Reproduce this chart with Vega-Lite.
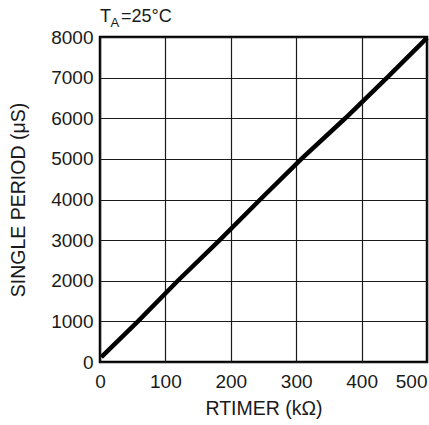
{
  "$schema": "https://vega.github.io/schema/vega-lite/v6.json",
  "width": 327,
  "height": 325,
  "autosize": {"type": "none"},
  "padding": {"left": 100, "top": 37, "right": 2, "bottom": 63},
  "background": "white",
  "config": {
    "font": "Liberation Sans",
    "view": {"stroke": "#000000", "strokeWidth": 2.5},
    "axis": {
      "domain": false,
      "ticks": false,
      "grid": true,
      "gridColor": "#1a1a1a",
      "gridWidth": 1.2,
      "gridOpacity": 1,
      "labelFont": "Liberation Sans",
      "labelFontSize": 19,
      "labelColor": "#1a1a1a",
      "titleFont": "Liberation Sans",
      "titleFontSize": 19.5,
      "titleFontWeight": "normal",
      "titleColor": "#1a1a1a"
    }
  },
  "layer": [
    {
      "data": {
        "values": [
          {"r": 2, "t": 120},
          {"r": 58, "t": 1000},
          {"r": 119, "t": 2000},
          {"r": 183, "t": 3000},
          {"r": 245, "t": 4000},
          {"r": 308, "t": 5000},
          {"r": 375, "t": 6000},
          {"r": 439, "t": 7000},
          {"r": 500, "t": 7980}
        ]
      },
      "mark": {"type": "line", "color": "#000000", "strokeWidth": 4.5, "clip": false},
      "encoding": {
        "x": {
          "field": "r",
          "type": "quantitative",
          "scale": {"domain": [0, 500], "nice": false},
          "axis": {
            "values": [0, 100, 200, 300, 400, 500],
            "title": "RTIMER (kΩ)",
            "labelPadding": 10,
            "labelAlign": {"condition": {"test": "datum.value === 500", "value": "right"}, "value": "center"},
            "labelBound": false,
            "labelOverlap": false,
            "titlePadding": 8
          }
        },
        "y": {
          "field": "t",
          "type": "quantitative",
          "scale": {"domain": [0, 8000], "nice": false},
          "axis": {"values": [0, 1000, 2000, 3000, 4000, 5000, 6000, 7000, 8000], "title": "SINGLE PERIOD (μS)", "labelPadding": 7, "titlePadding": 22, "format": "d"}
        }
      }
    },
    {
      "data": {"values": [{"note": "T"}]},
      "mark": {"type": "text", "align": "left", "baseline": "alphabetic", "dy": -15.5, "fontSize": 18, "fontWeight": "normal", "color": "#1a1a1a", "clip": false},
      "encoding": {"text": {"field": "note"}, "x": {"datum": 0, "type": "quantitative"}, "y": {"datum": 8000, "type": "quantitative"}}
    },
    {
      "data": {"values": [{"note": "A"}]},
      "mark": {"type": "text", "align": "left", "baseline": "alphabetic", "dx": 10.5, "dy": -10, "fontSize": 13, "fontWeight": "normal", "color": "#1a1a1a", "clip": false},
      "encoding": {"text": {"field": "note"}, "x": {"datum": 0, "type": "quantitative"}, "y": {"datum": 8000, "type": "quantitative"}}
    },
    {
      "data": {"values": [{"note": "=25°C"}]},
      "mark": {"type": "text", "align": "left", "baseline": "alphabetic", "dx": 21, "dy": -15.5, "fontSize": 18, "fontWeight": "normal", "color": "#1a1a1a", "clip": false},
      "encoding": {"text": {"field": "note"}, "x": {"datum": 0, "type": "quantitative"}, "y": {"datum": 8000, "type": "quantitative"}}
    }
  ]
}
